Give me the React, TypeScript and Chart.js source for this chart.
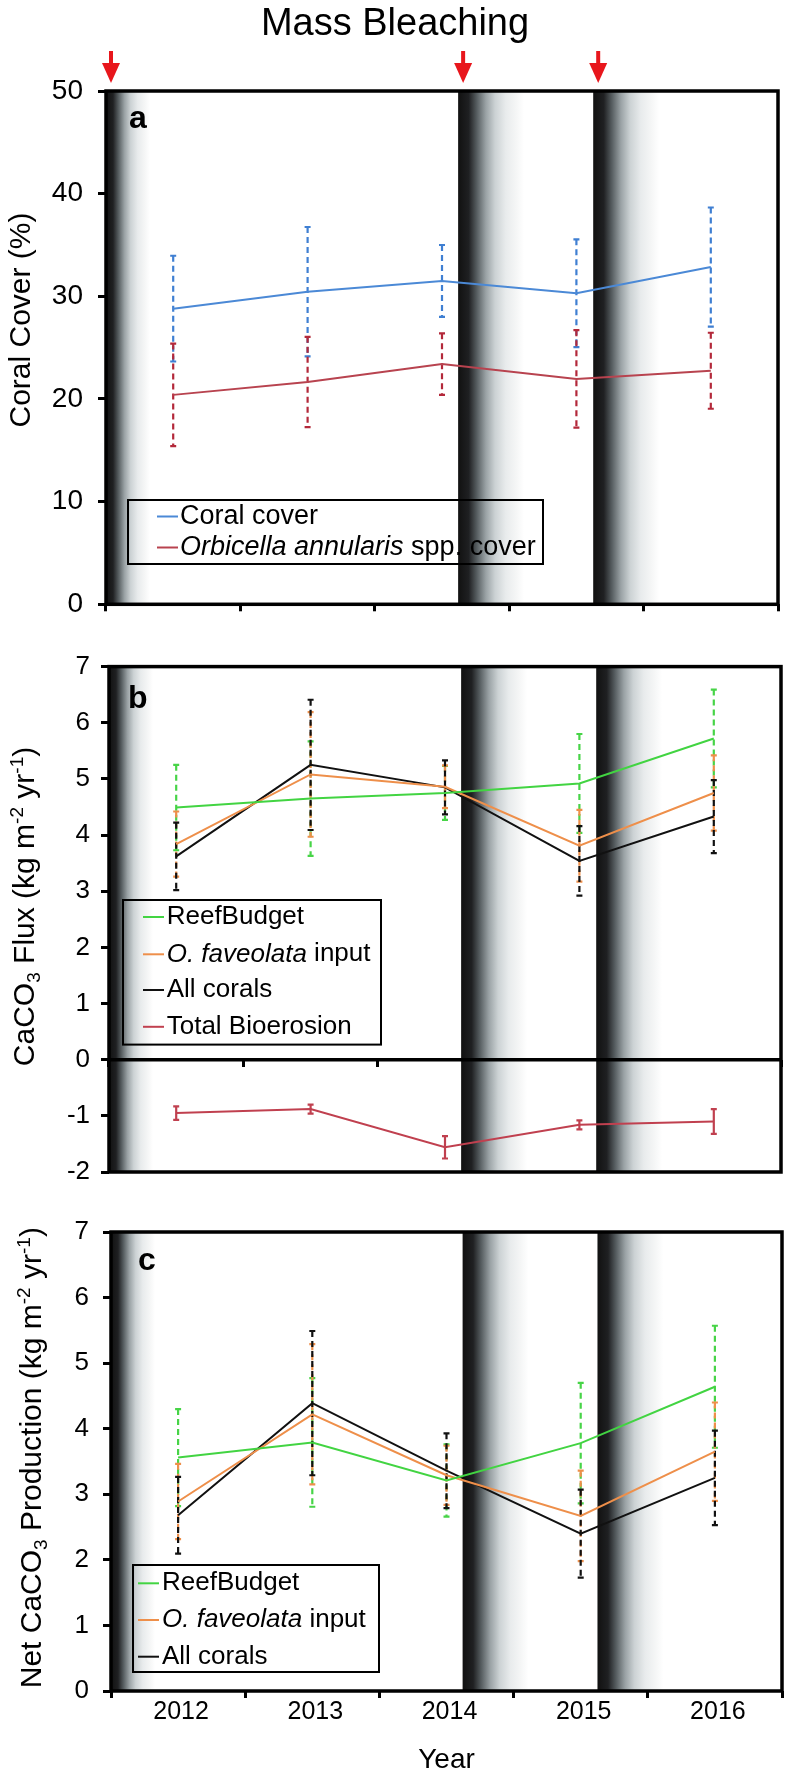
import React, { useEffect, useRef } from "react";
import { Chart, registerables } from "chart.js";

Chart.register(...registerables);

const FONT = '"Liberation Sans", Arial, Helvetica, sans-serif';
Chart.defaults.font.family = FONT;

// ---------------- data ----------------
const years = ["2012", "2013", "2014", "2015", "2016"];
// onset of the mass-bleaching events, in category-index units (-0.5 = left edge of 2012)
const bleachingEvents = [-0.5, 2.12, 3.125];

// panel a – coral cover (%)
const coralCover = [28.8, 30.45, 31.5, 30.3, 32.85];
const coralCoverErr = [5.15, 6.3, 3.5, 5.25, 5.8];
const orbicellaCover = [20.4, 21.65, 23.4, 21.95, 22.75];
const orbicellaErr = [5.0, 4.4, 3.0, 4.75, 3.7];

// panel b – CaCO3 flux (kg m-2 yr-1)
const reefBudgetFlux = [4.49, 4.65, 4.75, 4.92, 5.72];
const reefBudgetFluxErr = [0.76, 1.02, 0.48, 0.88, 0.87];
const ofavFlux = [3.84, 5.08, 4.86, 3.81, 4.75];
const ofavFluxErr = [0.58, 1.11, 0.38, 0.64, 0.67];
const allCoralsFlux = [3.62, 5.25, 4.85, 3.54, 4.33];
const allCoralsFluxErr = [0.6, 1.16, 0.48, 0.62, 0.65];
const bioerosion = [-0.95, -0.88, -1.56, -1.16, -1.1];
const bioerosionErr = [0.12, 0.08, 0.2, 0.08, 0.22];

// panel c – net CaCO3 production (kg m-2 yr-1)
const reefBudgetNet = [3.56, 3.79, 3.21, 3.78, 4.64];
const reefBudgetNetErr = [0.74, 0.98, 0.55, 0.92, 0.93];
const ofavNet = [2.89, 4.22, 3.29, 2.67, 3.65];
const ofavNetErr = [0.575, 1.07, 0.45, 0.69, 0.75];
const allCoralsNet = [2.68, 4.39, 3.36, 2.4, 3.25];
const allCoralsNetErr = [0.585, 1.1, 0.57, 0.67, 0.72];

// ---------------- text ----------------
type Part = { t: string; i?: boolean; sub?: boolean; sup?: boolean };
const titleText = "Mass Bleaching";
const xTitle = "Year";
const yTitleA: Part[] = [{ t: "Coral Cover (%)" }];
const yTitleB: Part[] = [
  { t: "CaCO" }, { t: "3", sub: true }, { t: " Flux (kg m" }, { t: "-2", sup: true },
  { t: " yr" }, { t: "-1", sup: true }, { t: ")" },
];
const yTitleC: Part[] = [
  { t: "Net CaCO" }, { t: "3", sub: true }, { t: " Production (kg m" }, { t: "-2", sup: true },
  { t: " yr" }, { t: "-1", sup: true }, { t: ")" },
];
const lgCoral: Part[] = [{ t: "Coral cover" }];
const lgOrbicella: Part[] = [{ t: "Orbicella annularis", i: true }, { t: " spp. cover" }];
const lgReef: Part[] = [{ t: "ReefBudget" }];
const lgOfav: Part[] = [{ t: "O. faveolata", i: true }, { t: " input" }];
const lgAll: Part[] = [{ t: "All corals" }];
const lgBio: Part[] = [{ t: "Total Bioerosion" }];

// ---------------- colours ----------------
const C_BLUE = "#4b89d6", C_BLUE_E = "#3f7fd2";
const C_RED = "#b8434f", C_RED_E = "#b3283a";
const C_GREEN = "#42d442", C_GREEN_E = "#47d447";
const C_ORANGE = "#ee8f4a", C_ORANGE_E = "#ee8f4a";
const C_BLACK = "#111111";
const C_BIO = "#c0404f";

const BAND_STOPS: [number, string][] = [
  [0, "#111111"], [0.16, "#1f2022"], [0.28, "#555c5f"], [0.42, "#9aa2a5"],
  [0.56, "#ccd2d4"], [0.72, "#e8ebec"], [0.88, "#f5f6f6"], [1, "#ffffff"],
];

function fontStr(size: number, italic = false, bold = false) {
  return `${italic ? "italic " : ""}${bold ? "bold " : ""}${size}px ${FONT}`;
}
function partSize(p: Part, size: number) {
  return p.sub || p.sup ? Math.round(size * 0.62) : size;
}
function richWidth(ctx: CanvasRenderingContext2D, parts: Part[], size: number) {
  let w = 0;
  for (const p of parts) {
    ctx.font = fontStr(partSize(p, size), !!p.i);
    w += ctx.measureText(p.t).width;
  }
  return w;
}
function drawRich(ctx: CanvasRenderingContext2D, parts: Part[], size: number, x: number, y: number) {
  let cx = x;
  ctx.textAlign = "left";
  for (const p of parts) {
    const s = partSize(p, size);
    ctx.font = fontStr(s, !!p.i);
    const dy = p.sub ? size * 0.2 : p.sup ? -size * 0.38 : 0;
    ctx.fillText(p.t, cx, y + dy);
    cx += ctx.measureText(p.t).width;
  }
}

function series(label: string, data: number[], err: number[], color: string, errColor: string, dashed = true) {
  return {
    label, data,
    errorBars: err, errorColor: errColor, errorDash: dashed ? [6, 4] : [],
    borderColor: color, backgroundColor: color, borderWidth: 2,
    pointRadius: 0, pointHoverRadius: 0, tension: 0, fill: false,
  } as any;
}

interface LegendCfg {
  box: [number, number, number, number];
  rows: number[];
  line: [number, number];
  textX: number;
  size: number;
  items: { parts: Part[]; color: string }[];
}
interface PanelCfg {
  datasets: any[];
  yMin: number; yMax: number; yStep: number;
  yWidth: number; tickPad: number; tickSize: number;
  padding: { left: number; top: number; right: number; bottom: number };
  xHeight: number; xPosition: any; xLabels: boolean;
  bandWidths: number[];
  letter: string; letterPos: [number, number];
  yTitle: Part[]; yTitleX: number; yTitleY: number;
  legend: LegendCfg;
  zeroLine?: boolean;
  header?: boolean;
}

function decor(cfg: PanelCfg) {
  return {
    id: "decor",
    beforeDatasetsDraw(chart: any) {
      const { ctx, chartArea: ca, scales } = chart;
      const x = scales.x, y = scales.y;
      // bleaching bands
      ctx.save();
      ctx.beginPath();
      ctx.rect(ca.left, ca.top, ca.right - ca.left, ca.bottom - ca.top);
      ctx.clip();
      bleachingEvents.forEach((ev, i) => {
        const x0 = x.getPixelForValue(ev);
        const w = cfg.bandWidths[i];
        const g = ctx.createLinearGradient(x0, 0, x0 + w, 0);
        BAND_STOPS.forEach(([o, c]) => g.addColorStop(o, c));
        ctx.fillStyle = g;
        ctx.fillRect(x0, ca.top, w, ca.bottom - ca.top);
      });
      ctx.restore();
      // error bars
      chart.data.datasets.forEach((ds: any) => {
        const err: number[] = ds.errorBars;
        if (!err) return;
        ctx.save();
        ctx.strokeStyle = ds.errorColor;
        ctx.lineWidth = 2.2;
        ds.data.forEach((v: number, i: number) => {
          const px = x.getPixelForValue(i);
          const top = y.getPixelForValue(v + err[i]);
          const bot = y.getPixelForValue(v - err[i]);
          ctx.setLineDash(ds.errorDash);
          ctx.beginPath();
          ctx.moveTo(px, top);
          ctx.lineTo(px, bot);
          ctx.stroke();
          ctx.setLineDash([]);
          ctx.beginPath();
          ctx.moveTo(px - 3, top); ctx.lineTo(px + 3, top);
          ctx.moveTo(px - 3, bot); ctx.lineTo(px + 3, bot);
          ctx.stroke();
        });
        ctx.restore();
      });
    },
    afterDatasetsDraw(chart: any) {
      const { ctx, chartArea: ca, scales } = chart;
      const x = scales.x, y = scales.y;
      ctx.save();
      // frame
      ctx.strokeStyle = "#000";
      ctx.lineWidth = 3.5;
      ctx.lineJoin = "miter";
      ctx.strokeRect(ca.left, ca.top, ca.right - ca.left, ca.bottom - ca.top);
      if (cfg.zeroLine) {
        const y0 = y.getPixelForValue(0);
        ctx.beginPath();
        ctx.moveTo(ca.left, y0);
        ctx.lineTo(ca.right, y0);
        ctx.stroke();
      }
      // legend
      const L = cfg.legend;
      ctx.lineWidth = 2;
      ctx.strokeStyle = "#000";
      ctx.strokeRect(L.box[0], L.box[1], L.box[2], L.box[3]);
      L.items.forEach((it, k) => {
        const yy = L.rows[k];
        ctx.strokeStyle = it.color;
        ctx.lineWidth = 2;
        ctx.beginPath();
        ctx.moveTo(L.line[0], yy);
        ctx.lineTo(L.line[1], yy);
        ctx.stroke();
        ctx.fillStyle = "#000";
        ctx.textBaseline = "middle";
        drawRich(ctx, it.parts, L.size, L.textX, yy);
      });
      // panel letter
      ctx.fillStyle = "#000";
      ctx.textBaseline = "alphabetic";
      ctx.textAlign = "left";
      ctx.font = fontStr(32, false, true);
      ctx.fillText(cfg.letter, cfg.letterPos[0], cfg.letterPos[1]);
      // y title
      const tw = richWidth(ctx, cfg.yTitle, 30);
      ctx.save();
      ctx.translate(cfg.yTitleX, cfg.yTitleY);
      ctx.rotate(-Math.PI / 2);
      ctx.textBaseline = "alphabetic";
      drawRich(ctx, cfg.yTitle, 30, -tw / 2, 0);
      ctx.restore();
      // header: title + arrows
      if (cfg.header) {
        ctx.fillStyle = "#000";
        ctx.font = fontStr(38);
        ctx.textAlign = "center";
        ctx.textBaseline = "alphabetic";
        ctx.fillText(titleText, 395, 35);
        ctx.fillStyle = "#e8161c";
        bleachingEvents.forEach((ev) => {
          const px = x.getPixelForValue(ev) + 5;
          ctx.fillRect(px - 2, 51, 4, 14);
          ctx.beginPath();
          ctx.moveTo(px - 9, 63);
          ctx.lineTo(px + 9, 63);
          ctx.lineTo(px, 83);
          ctx.closePath();
          ctx.fill();
        });
      }
      ctx.restore();
    },
  };
}

function makeChart(canvas: HTMLCanvasElement, cfg: PanelCfg) {
  return new Chart(canvas, {
    type: "line",
    data: { labels: years, datasets: cfg.datasets },
    options: {
      responsive: false,
      animation: false,
      events: [],
      layout: { padding: cfg.padding },
      plugins: { legend: { display: false }, tooltip: { enabled: false } },
      scales: {
        x: {
          type: "category",
          offset: true,
          position: cfg.xPosition,
          grid: {
            display: true, drawOnChartArea: false, drawTicks: true, tickLength: 7,
            lineWidth: 3, color: "#000", offset: true,
          },
          border: { display: false },
          ticks: {
            display: cfg.xLabels, color: "#000", font: { size: 25, family: FONT },
            padding: -1, labelOffset: 3, maxRotation: 0, autoSkip: false,
          },
          title: {
            display: cfg.xLabels, text: xTitle, color: "#000",
            font: { size: 28, family: FONT }, padding: { top: 0, bottom: 4 },
          },
          afterFit: (s: any) => { s.height = cfg.xHeight; },
        },
        y: {
          min: cfg.yMin, max: cfg.yMax,
          ticks: {
            stepSize: cfg.yStep, color: "#000", padding: cfg.tickPad,
            font: { size: cfg.tickSize, family: FONT },
          },
          grid: {
            display: true, drawOnChartArea: false, drawTicks: true, tickLength: 8,
            lineWidth: 3, color: "#000",
          },
          border: { display: false },
          afterFit: (s: any) => { s.width = cfg.yWidth; },
        },
      },
    } as any,
    plugins: [decor(cfg)],
  });
}

const panelA = (): PanelCfg => ({
  datasets: [
    series("Coral cover", coralCover, coralCoverErr, C_BLUE, C_BLUE_E),
    series("Orbicella annularis spp. cover", orbicellaCover, orbicellaErr, C_RED, C_RED_E),
  ],
  yMin: 0, yMax: 50, yStep: 10, yWidth: 106, tickPad: 15, tickSize: 28,
  padding: { left: 0, top: 91, right: 8, bottom: 23.7 },
  xHeight: 12, xPosition: "bottom", xLabels: false,
  bandWidths: [44, 66, 66],
  letter: "a", letterPos: [129, 128],
  yTitle: yTitleA, yTitleX: 30, yTitleY: 320,
  legend: {
    box: [128, 500, 415, 64], rows: [516.5, 547.5], line: [157, 178], textX: 180, size: 27,
    items: [{ parts: lgCoral, color: C_BLUE }, { parts: lgOrbicella, color: C_RED }],
  },
  header: true,
});

const panelB = (): PanelCfg => ({
  datasets: [
    series("ReefBudget", reefBudgetFlux, reefBudgetFluxErr, C_GREEN, C_GREEN_E),
    series("O. faveolata input", ofavFlux, ofavFluxErr, C_ORANGE, C_ORANGE_E),
    series("All corals", allCoralsFlux, allCoralsFluxErr, C_BLACK, C_BLACK),
    series("Total Bioerosion", bioerosion, bioerosionErr, C_BIO, C_BIO, false),
  ],
  yMin: -2, yMax: 7, yStep: 1, yWidth: 109, tickPad: 11, tickSize: 26,
  padding: { left: 0, top: 19, right: 5, bottom: 28 },
  xHeight: 0, xPosition: { y: 0 }, xLabels: false,
  bandWidths: [44, 66, 66],
  letter: "b", letterPos: [128, 68],
  yTitle: yTitleB, yTitleX: 34, yTitleY: 266.5,
  legend: {
    box: [123, 260, 258, 144.6], rows: [277, 314.3, 350, 386.8], line: [143, 164], textX: 166.7, size: 26,
    items: [
      { parts: lgReef, color: C_GREEN }, { parts: lgOfav, color: C_ORANGE },
      { parts: lgAll, color: C_BLACK }, { parts: lgBio, color: C_BIO },
    ],
  },
  zeroLine: true,
});

const panelC = (): PanelCfg => ({
  datasets: [
    series("ReefBudget", reefBudgetNet, reefBudgetNetErr, C_GREEN, C_GREEN_E),
    series("O. faveolata input", ofavNet, ofavNetErr, C_ORANGE, C_ORANGE_E),
    series("All corals", allCoralsNet, allCoralsNetErr, C_BLACK, C_BLACK),
  ],
  yMin: 0, yMax: 7, yStep: 1, yWidth: 111, tickPad: 14, tickSize: 26,
  padding: { left: 0, top: 32, right: 4, bottom: 0 },
  xHeight: 90, xPosition: "bottom", xLabels: true,
  bandWidths: [44, 66, 66],
  letter: "c", letterPos: [138, 70],
  yTitle: yTitleC, yTitleX: 41, yTitleY: 257.7,
  legend: {
    box: [133, 365, 246, 107], rows: [383.3, 420, 456.7], line: [138, 159], textX: 162, size: 26,
    items: [
      { parts: lgReef, color: C_GREEN }, { parts: lgOfav, color: C_ORANGE },
      { parts: lgAll, color: C_BLACK },
    ],
  },
});

export default function App() {
  const refA = useRef<HTMLCanvasElement>(null);
  const refB = useRef<HTMLCanvasElement>(null);
  const refC = useRef<HTMLCanvasElement>(null);

  useEffect(() => {
    const charts: Chart[] = [];
    if (refA.current) charts.push(makeChart(refA.current, panelA()));
    if (refB.current) charts.push(makeChart(refB.current, panelB()));
    if (refC.current) charts.push(makeChart(refC.current, panelC()));
    return () => charts.forEach((c) => c.destroy());
  }, []);

  const cv = (top: number): React.CSSProperties => ({ position: "absolute", left: 0, top, display: "block" });

  return (
    <div style={{ position: "absolute", left: 0, top: 0, width: 786, height: 1781, background: "#fff", overflow: "hidden" }}>
      <canvas ref={refA} width={786} height={640} style={cv(0)} />
      <canvas ref={refB} width={786} height={560} style={cv(640)} />
      <canvas ref={refC} width={786} height={581} style={cv(1200)} />
    </div>
  );
}
